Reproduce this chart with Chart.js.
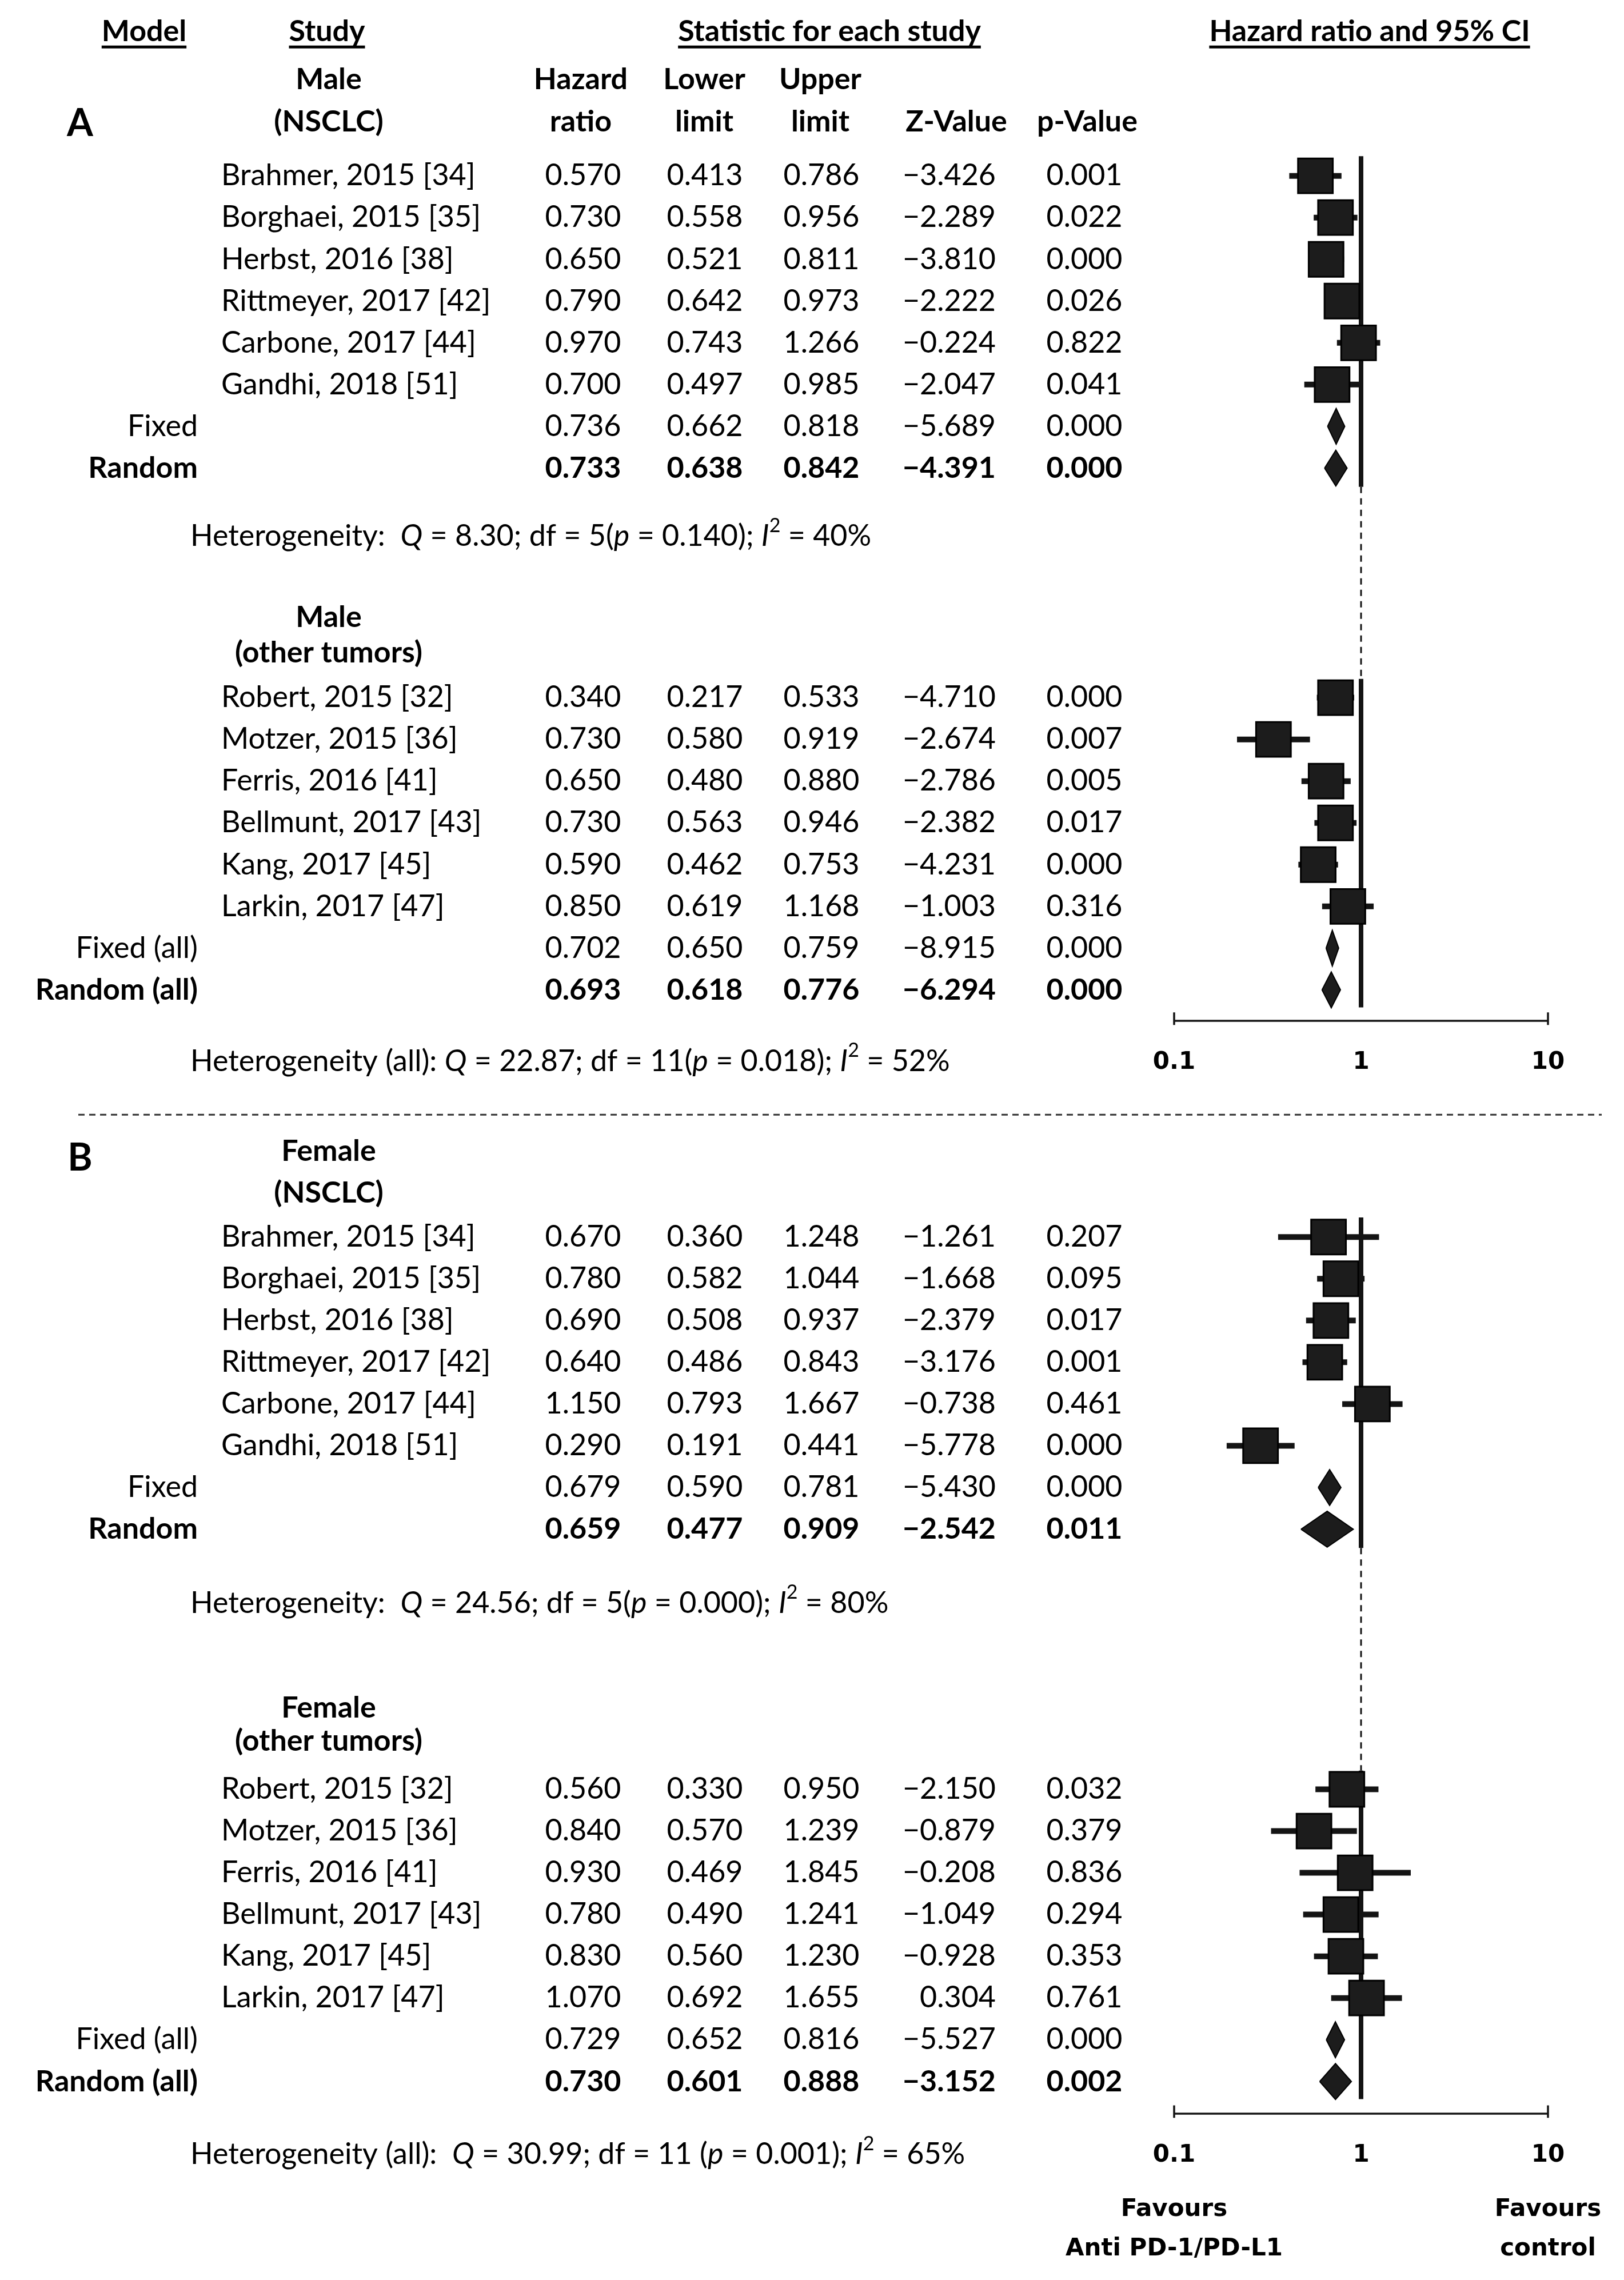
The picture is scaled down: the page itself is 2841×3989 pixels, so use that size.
<!DOCTYPE html>
<html lang="en">
<head>
<meta charset="UTF-8">
<title>Hazard ratio forest plot by sex</title>
<script src="https://cdn.jsdelivr.net/npm/chart.js"></script>
<style>
  html, body { margin: 0; padding: 0; background: #fff; }
  #forest { display: block; }
</style>
</head>
<body>
<canvas id="forest" width="2841" height="3989"></canvas>
<script>
// ---- values ----
const studiesNsclc = ['Brahmer, 2015 [34]', 'Borghaei, 2015 [35]', 'Herbst, 2016 [38]', 'Rittmeyer, 2017 [42]', 'Carbone, 2017 [44]', 'Gandhi, 2018 [51]'];
const studiesOther = ['Robert, 2015 [32]', 'Motzer, 2015 [36]', 'Ferris, 2016 [41]', 'Bellmunt, 2017 [43]', 'Kang, 2017 [45]', 'Larkin, 2017 [47]'];

// A: male, NSCLC
const maleNsclcHR = [0.570, 0.730, 0.650, 0.790, 0.970, 0.700];
const maleNsclcLo = [0.413, 0.558, 0.521, 0.642, 0.743, 0.497];
const maleNsclcUp = [0.786, 0.956, 0.811, 0.973, 1.266, 0.985];
const maleNsclcZ  = [-3.426, -2.289, -3.810, -2.222, -0.224, -2.047];
const maleNsclcP  = [0.001, 0.022, 0.000, 0.026, 0.822, 0.041];
const maleNsclcFixed  = [0.736, 0.662, 0.818, -5.689, 0.000]; // hr, lower, upper, z, p
const maleNsclcRandom = [0.733, 0.638, 0.842, -4.391, 0.000];

// A: male, other tumors
const maleOtherHR = [0.340, 0.730, 0.650, 0.730, 0.590, 0.850];
const maleOtherLo = [0.217, 0.580, 0.480, 0.563, 0.462, 0.619];
const maleOtherUp = [0.533, 0.919, 0.880, 0.946, 0.753, 1.168];
const maleOtherZ  = [-4.710, -2.674, -2.786, -2.382, -4.231, -1.003];
const maleOtherP  = [0.000, 0.007, 0.005, 0.017, 0.000, 0.316];
const maleOtherFixed  = [0.702, 0.650, 0.759, -8.915, 0.000];
const maleOtherRandom = [0.693, 0.618, 0.776, -6.294, 0.000];

// B: female, NSCLC
const femaleNsclcHR = [0.670, 0.780, 0.690, 0.640, 1.150, 0.290];
const femaleNsclcLo = [0.360, 0.582, 0.508, 0.486, 0.793, 0.191];
const femaleNsclcUp = [1.248, 1.044, 0.937, 0.843, 1.667, 0.441];
const femaleNsclcZ  = [-1.261, -1.668, -2.379, -3.176, -0.738, -5.778];
const femaleNsclcP  = [0.207, 0.095, 0.017, 0.001, 0.461, 0.000];
const femaleNsclcFixed  = [0.679, 0.590, 0.781, -5.430, 0.000];
const femaleNsclcRandom = [0.659, 0.477, 0.909, -2.542, 0.011];

// B: female, other tumors
const femaleOtherHR = [0.560, 0.840, 0.930, 0.780, 0.830, 1.070];
const femaleOtherLo = [0.330, 0.570, 0.469, 0.490, 0.560, 0.692];
const femaleOtherUp = [0.950, 1.239, 1.845, 1.241, 1.230, 1.655];
const femaleOtherZ  = [-2.150, -0.879, -0.208, -1.049, -0.928, 0.304];
const femaleOtherP  = [0.032, 0.379, 0.836, 0.294, 0.353, 0.761];
const femaleOtherFixed  = [0.729, 0.652, 0.816, -5.527, 0.000];
const femaleOtherRandom = [0.730, 0.601, 0.888, -3.152, 0.002];

// heterogeneity lines, in order A, A (all), B, B (all)
const hetQ  = [8.30, 22.87, 24.56, 30.99];
const hetDf = [5, 11, 5, 11];
const hetP  = [0.140, 0.018, 0.000, 0.001];
const hetI2 = [40, 52, 80, 65];

// in the published figure the first two markers of the "other tumors" panels are swapped
const markerOrderNsclc = [0, 1, 2, 3, 4, 5];
const markerOrderOther = [1, 0, 2, 3, 4, 5];

const axisTicks = [0.1, 1, 10];

// ---- layout (row units, 1 row = one table line) ----
const FONT = 'Lato, "Open Sans", sans-serif';
const AXFONT = '"DejaVu Sans", Verdana, sans-serif';
const TS = 52;                     // table text size
const groupStart = [0, 12.5, 25.42, 38.65];

const groups = [
  { title: ['Male', '(NSCLC)'], titleRows: [-2.30, -1.29], studies: studiesNsclc, hr: maleNsclcHR, lo: maleNsclcLo, up: maleNsclcUp, z: maleNsclcZ, p: maleNsclcP, fixed: maleNsclcFixed, random: maleNsclcRandom, order: markerOrderNsclc, model: ['Fixed', 'Random'], het: 0, hetRow: 8.64, hetLabel: 'Heterogeneity:  ', dfSep: '' },
  { title: ['Male', '(other tumors)'], titleRows: [10.58, 11.42], studies: studiesOther, hr: maleOtherHR, lo: maleOtherLo, up: maleOtherUp, z: maleOtherZ, p: maleOtherP, fixed: maleOtherFixed, random: maleOtherRandom, order: markerOrderOther, model: ['Fixed (all)', 'Random (all)'], het: 1, hetRow: 21.22, hetLabel: 'Heterogeneity (all): ', dfSep: '' },
  { title: ['Female', '(NSCLC)'], titleRows: [23.36, 24.37], studies: studiesNsclc, hr: femaleNsclcHR, lo: femaleNsclcLo, up: femaleNsclcUp, z: femaleNsclcZ, p: femaleNsclcP, fixed: femaleNsclcFixed, random: femaleNsclcRandom, order: markerOrderNsclc, model: ['Fixed', 'Random'], het: 2, hetRow: 34.19, hetLabel: 'Heterogeneity:  ', dfSep: '' },
  { title: ['Female', '(other tumors)'], titleRows: [36.70, 37.50], studies: studiesOther, hr: femaleOtherHR, lo: femaleOtherLo, up: femaleOtherUp, z: femaleOtherZ, p: femaleOtherP, fixed: femaleOtherFixed, random: femaleOtherRandom, order: markerOrderOther, model: ['Fixed (all)', 'Random (all)'], het: 3, hetRow: 47.40, hetLabel: 'Heterogeneity (all):  ', dfSep: ' ' }
];
groups.forEach((g, i) => { g.start = groupStart[i]; });

const axisRows = [20.24, 46.42];

// ---- datasets ----
const INK = '#141414';
const datasets = [];

function seg(pts, opts) {
  datasets.push(Object.assign({
    type: 'scatter', showLine: true, data: pts, pointRadius: 0, pointHoverRadius: 0,
    borderColor: INK, borderWidth: 10, fill: false, order: 3, clip: false
  }, opts));
}

// vertical line of no effect, solid within a panel and dashed between panels
[[0, 1], [2, 3]].forEach(([a, b]) => {
  const ga = groups[a], gb = groups[b];
  seg([{ x: 1, y: ga.start - 0.47 }, { x: 1, y: ga.start + 7.45 }], { borderWidth: 8, order: 4 });
  seg([{ x: 1, y: ga.start + 7.45 }, { x: 1, y: gb.start - 0.45 }], { borderWidth: 3, borderDash: [11, 9], order: 4 });
  seg([{ x: 1, y: gb.start - 0.45 }, { x: 1, y: gb.start + 7.42 }], { borderWidth: 8, order: 4 });
});

// bottom axes with end ticks
axisRows.forEach(r => {
  seg([{ x: axisTicks[0], y: r }, { x: axisTicks[2], y: r }], { borderWidth: 3.5, order: 4 });
  [axisTicks[0], axisTicks[2]].forEach(t => seg([{ x: t, y: r - 0.2 }, { x: t, y: r + 0.1 }], { borderWidth: 3.5, order: 4 }));
});

groups.forEach(g => {
  const pts = [];
  g.order.forEach((k, i) => {
    const row = g.start + i;
    seg([{ x: g.lo[k], y: row }, { x: g.up[k], y: row }], { borderWidth: 10 });
    pts.push({ x: g.hr[k], y: row });
  });
  datasets.push({
    type: 'scatter', data: pts, pointStyle: 'rect', pointRadius: 43, pointHoverRadius: 43,
    backgroundColor: '#1c1c1c', borderColor: '#000', borderWidth: 3, order: 1, clip: false
  });
  [g.fixed, g.random].forEach((s, j) => {
    const row = g.start + 6 + j, h = 0.43;
    datasets.push({
      type: 'scatter', showLine: true, pointRadius: 0, pointHoverRadius: 0,
      data: [{ x: s[1], y: row }, { x: s[0], y: row - h }, { x: s[2], y: row }, { x: s[0], y: row + h }, { x: s[1], y: row }],
      fill: 'shape', backgroundColor: '#1c1c1c', borderColor: '#000', borderWidth: 2,
      borderJoinStyle: 'miter', order: 1, clip: false
    });
  });
});

// ---- text drawn against the chart's own y scale ----
function text(ctx, s, x, y, o) {
  o = o || {};
  ctx.font = `${o.style || 'normal'} ${o.weight || 'normal'} ${o.size || TS}px ${o.family || FONT}`;
  ctx.textAlign = o.align || 'left';
  ctx.textBaseline = 'middle';
  ctx.fillStyle = '#000';
  ctx.fillText(s, x, y);
  return ctx.measureText(s).width;
}

function underline(ctx, s, cx, y, o) {
  const w = text(ctx, s, cx, y, Object.assign({ align: 'center' }, o));
  ctx.fillRect(cx - w / 2, y + 24, w, 5);
}

const fmt = v => v.toFixed(3);
const fmtZ = v => (v < 0 ? '\u2212' : '') + Math.abs(v).toFixed(3);

const tablePlugin = {
  id: 'forestTable',
  afterDatasetsDraw(chart) {
    const ctx = chart.ctx, ys = chart.scales.y, xs = chart.scales.x;
    const Y = r => ys.getPixelForValue(r);
    ctx.save();

    // header
    const hb = { weight: 'bold' };
    underline(ctx, 'Model', 252, Y(-3.45), hb);
    underline(ctx, 'Study', 572, Y(-3.45), hb);
    underline(ctx, 'Statistic for each study', 1451, Y(-3.45), hb);
    underline(ctx, 'Hazard ratio and 95% CI', 2396, Y(-3.45), hb);
    const hc = { weight: 'bold', align: 'center' };
    text(ctx, 'Hazard', 1016, Y(-2.30), hc); text(ctx, 'ratio', 1016, Y(-1.29), hc);
    text(ctx, 'Lower', 1232, Y(-2.30), hc); text(ctx, 'limit', 1232, Y(-1.29), hc);
    text(ctx, 'Upper', 1435, Y(-2.30), hc); text(ctx, 'limit', 1435, Y(-1.29), hc);
    text(ctx, 'Z-Value', 1673, Y(-1.29), hc);
    text(ctx, 'p-Value', 1902, Y(-1.29), hc);
    text(ctx, 'A', 140, Y(-1.25), { weight: 'bold', size: 66, align: 'center' });
    text(ctx, 'B', 140, Y(23.54), { weight: 'bold', size: 66, align: 'center' });

    groups.forEach(g => {
      text(ctx, g.title[0], 575, Y(g.titleRows[0]), hc);
      text(ctx, g.title[1], 575, Y(g.titleRows[1]), hc);
      g.studies.forEach((s, i) => {
        const y = Y(g.start + i);
        text(ctx, s, 387, y);
        text(ctx, fmt(g.hr[i]), 1020, y, { align: 'center' });
        text(ctx, fmt(g.lo[i]), 1233, y, { align: 'center' });
        text(ctx, fmt(g.up[i]), 1437, y, { align: 'center' });
        text(ctx, fmtZ(g.z[i]), 1742, y, { align: 'right' });
        text(ctx, fmt(g.p[i]), 1897, y, { align: 'center' });
      });
      [g.fixed, g.random].forEach((s, j) => {
        const y = Y(g.start + 6 + j), w = j ? 'bold' : 'normal';
        text(ctx, g.model[j], 346, y, { align: 'right', weight: w });
        text(ctx, fmt(s[0]), 1020, y, { align: 'center', weight: w });
        text(ctx, fmt(s[1]), 1233, y, { align: 'center', weight: w });
        text(ctx, fmt(s[2]), 1437, y, { align: 'center', weight: w });
        text(ctx, fmtZ(s[3]), 1742, y, { align: 'right', weight: w });
        text(ctx, fmt(s[4]), 1897, y, { align: 'center', weight: w });
      });

      // heterogeneity line with italic symbols
      const k = g.het, y = Y(g.hetRow);
      const runs = [
        [g.hetLabel], ['Q', 1], [` = ${hetQ[k].toFixed(2)}; df = ${hetDf[k]}${g.dfSep}(`], ['p', 1],
        [` = ${hetP[k].toFixed(3)}); `], ['I', 1], ['2', 2], [` = ${hetI2[k]}%`]
      ];
      let x = 333;
      runs.forEach(([t, f]) => {
        if (f === 2) x += text(ctx, t, x, y - 19, { size: 34 });
        else x += text(ctx, t, x, y, { style: f ? 'italic' : 'normal' });
      });
    });

    // axis tick labels and direction labels
    const ab = { weight: 'bold', size: 42, family: AXFONT, align: 'center' };
    axisRows.forEach(r => axisTicks.forEach(t => text(ctx, String(t), xs.getPixelForValue(t), Y(r + 1.0), ab)));
    const r2 = axisRows[1];
    text(ctx, 'Favours', xs.getPixelForValue(axisTicks[0]), Y(r2 + 2.3), ab);
    text(ctx, 'Anti PD-1/PD-L1', xs.getPixelForValue(axisTicks[0]), Y(r2 + 3.24), ab);
    text(ctx, 'Favours', xs.getPixelForValue(axisTicks[2]), Y(r2 + 2.3), ab);
    text(ctx, 'control', xs.getPixelForValue(axisTicks[2]), Y(r2 + 3.24), ab);

    // dashed divider between panels A and B
    ctx.strokeStyle = '#333';
    ctx.lineWidth = 3;
    ctx.setLineDash([11, 8]);
    ctx.beginPath();
    ctx.moveTo(137, Y(22.49));
    ctx.lineTo(2802, Y(22.49));
    ctx.stroke();
    ctx.restore();
  }
};

// padding of 50 px top/bottom exceeds the point-radius overflow Chart.js reserves,
// so the row scale maps row 0 to the first table line of the figure
new Chart(document.getElementById('forest'), {
  type: 'scatter',
  data: { datasets: datasets },
  options: {
    responsive: false,
    animation: false,
    events: [],
    layout: { padding: { left: 2054, right: 133, top: 50, bottom: 50 } },
    scales: {
      x: { type: 'logarithmic', min: 0.1, max: 10, display: false },
      y: { type: 'linear', min: -3.528, max: 49.72, reverse: true, display: false }
    },
    plugins: { legend: { display: false }, tooltip: { enabled: false } }
  },
  plugins: [tablePlugin]
});
</script>
</body>
</html>
